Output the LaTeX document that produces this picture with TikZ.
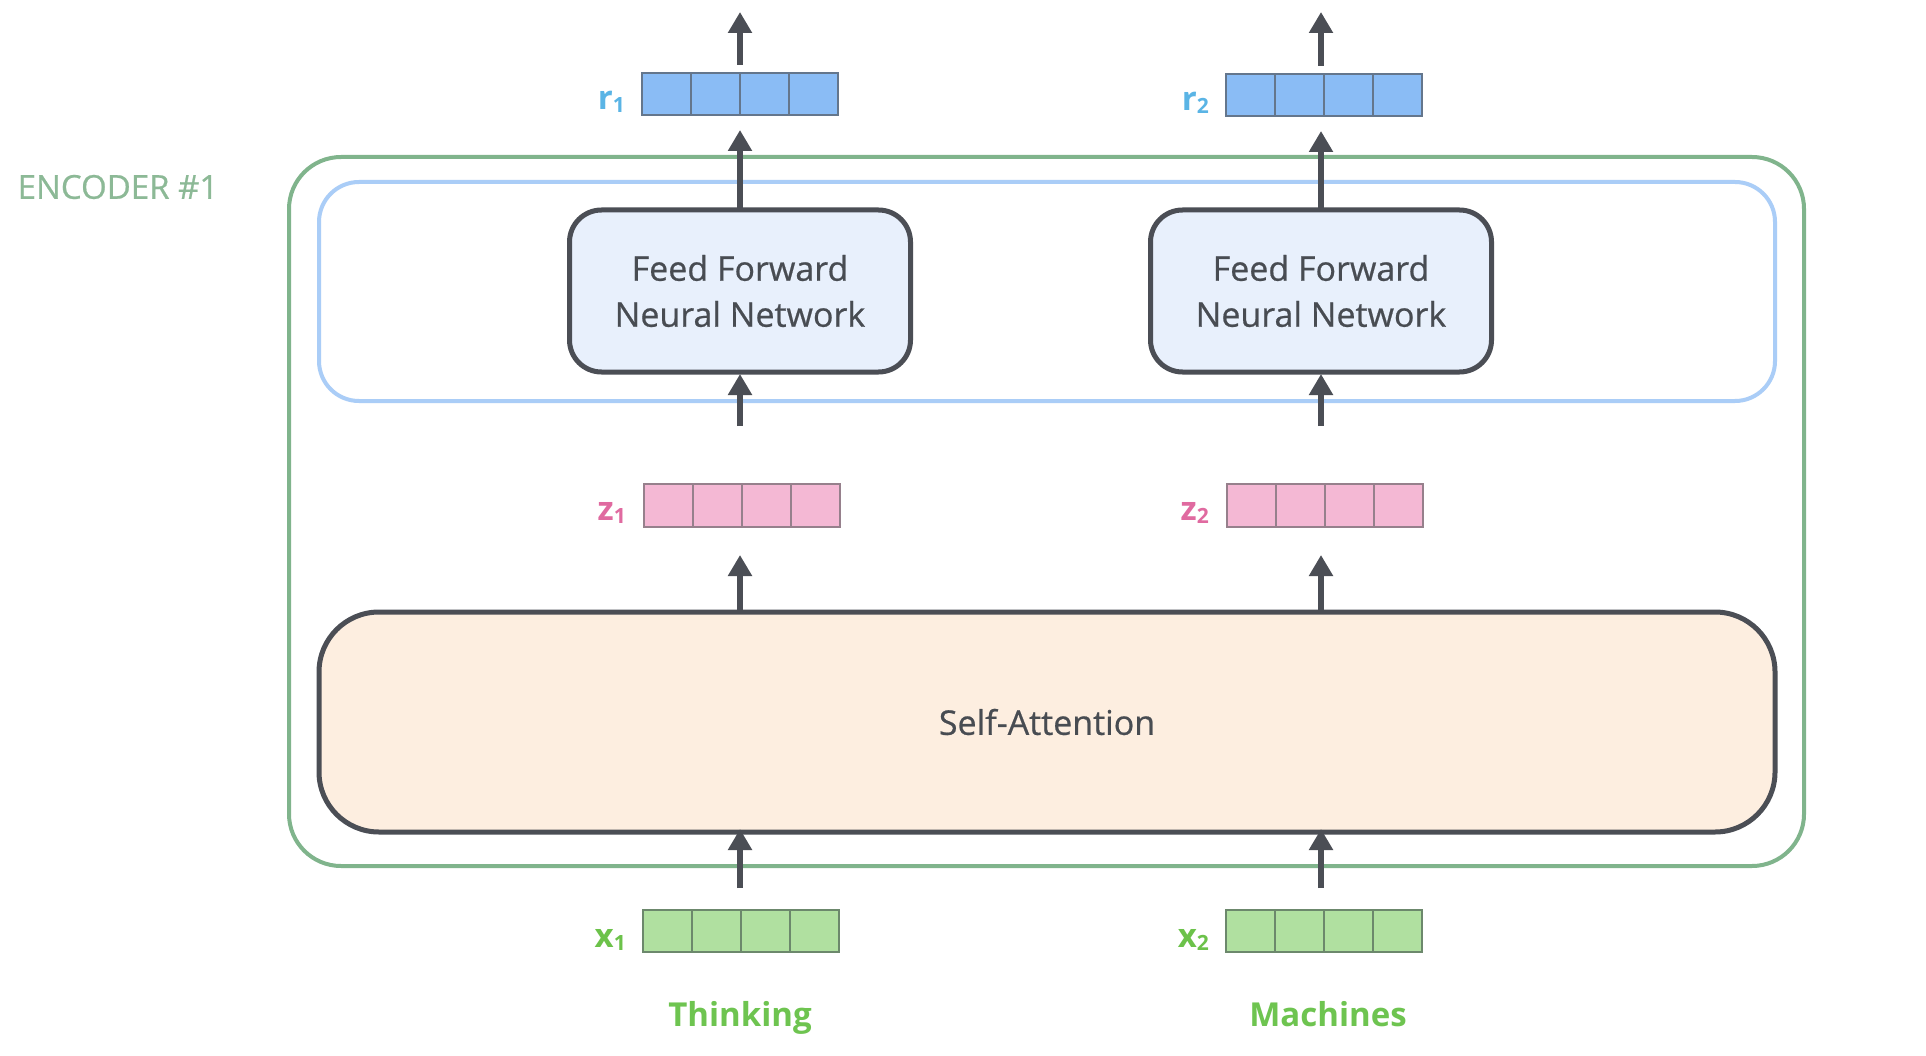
\documentclass[tikz,border=0pt]{standalone}
\usepackage{fontspec}
\setmainfont{Open Sans}
\usetikzlibrary{arrows.meta,calc}
\definecolor{encgreen}{RGB}{128,180,140}
\definecolor{enctext}{RGB}{140,185,150}
\definecolor{ffblue}{RGB}{170,205,247}
\definecolor{darkline}{RGB}{75,78,85}
\definecolor{txtgray}{RGB}{72,76,82}
\definecolor{fffill}{RGB}{232,240,252}
\definecolor{safill}{RGB}{253,238,224}
\definecolor{rfill}{RGB}{138,188,245}
\definecolor{rbord}{RGB}{100,118,140}
\definecolor{zfill}{RGB}{244,184,212}
\definecolor{zbord}{RGB}{150,128,140}
\definecolor{xfill}{RGB}{176,224,160}
\definecolor{xbord}{RGB}{108,136,108}
\definecolor{rlab}{RGB}{90,180,229}
\definecolor{zlab}{RGB}{224,106,160}
\definecolor{xlab}{RGB}{108,194,74}
\definecolor{wordgreen}{RGB}{110,196,80}
\newfontfamily\medfont[FakeBold=0.6]{Open Sans}
\begin{document}
\begin{tikzpicture}[x=1pt,y=-1pt,
  encbox/.style={draw=encgreen,line width=4pt,rounded corners=52pt,inner sep=0pt,outer sep=0pt,minimum width=1515pt,minimum height=709pt},
  ffgroup/.style={draw=ffblue,line width=4pt,rounded corners=40pt,inner sep=0pt,outer sep=0pt,minimum width=1456pt,minimum height=219pt},
  ffbox/.style={draw=darkline,fill=fffill,line width=5pt,rounded corners=32pt,inner sep=0pt,outer sep=0pt,minimum width=341pt,minimum height=162pt,align=center,text=txtgray,font=\medfont\fontsize{34}{46}\selectfont},
  sabox/.style={draw=darkline,fill=safill,line width=5pt,rounded corners=60pt,inner sep=0pt,outer sep=0pt,minimum width=1456pt,minimum height=220pt,text=txtgray,font=\medfont\fontsize{34}{40}\selectfont},
  vecbox/.style={line width=2pt,inner sep=0pt,outer sep=0pt,minimum width=196pt,minimum height=42pt},
  veclab/.style={inner sep=0pt,anchor=base east,font=\fontsize{33}{33}\selectfont\bfseries},
  word/.style={inner sep=0pt,anchor=base,text=wordgreen,font=\fontsize{33}{38}\selectfont\bfseries},
  arr/.style={draw=darkline,line width=6pt,-{Triangle[length=21pt,width=23pt]}}
]
\useasboundingbox[fill=white] (0,0) rectangle (1926,1056);

% containers
\node[encbox] (enc) at (1046.5,511.5) {};
\node[ffgroup] (ffg) at (1047,291.5) {};
\node[inner sep=0pt,text=enctext,font=\medfont\fontsize{33}{38}\selectfont] (enclab) at (118,187) {ENCODER \#1};

% boxes
\node[sabox] (sa) at (1047,722) {Self-Attention};
\node[ffbox] (ff1) at (740,291) {Feed Forward\\Neural Network};
\node[ffbox] (ff2) at (1321,291) {Feed Forward\\Neural Network};

% vectors
\node[vecbox,draw=rbord,fill=rfill] (r1) at (740,94) {};
\node[vecbox,draw=rbord,fill=rfill] (r2) at (1324,95) {};
\node[vecbox,draw=zbord,fill=zfill,minimum height=43pt] (z1) at (742,505.5) {};
\node[vecbox,draw=zbord,fill=zfill,minimum height=43pt] (z2) at (1325,505.5) {};
\node[vecbox,draw=xbord,fill=xfill] (x1) at (741,931) {};
\node[vecbox,draw=xbord,fill=xfill] (x2) at (1324,931) {};
\foreach \v/\col in {r1/rbord,r2/rbord,z1/zbord,z2/zbord,x1/xbord,x2/xbord}{
  \foreach \f in {0.25,0.5,0.75}{
    \draw[draw=\col,line width=2pt] ($(\v.north west)!\f!(\v.north east)$) -- ($(\v.south west)!\f!(\v.south east)$);
  }
}

% vector labels
\node[veclab,text=rlab] (r1l) at ([xshift=-17pt,yshift=5pt]r1.south west) {r\raisebox{-3pt}{\fontsize{21}{21}\selectfont 1}};
\node[veclab,text=rlab] (r2l) at ([xshift=-17pt,yshift=5pt]r2.south west) {r\raisebox{-3pt}{\fontsize{21}{21}\selectfont 2}};
\node[veclab,text=zlab] (z1l) at ([xshift=-18pt,yshift=7pt]z1.south west) {z\raisebox{-3pt}{\fontsize{21}{21}\selectfont 1}};
\node[veclab,text=zlab] (z2l) at ([xshift=-18pt,yshift=7pt]z2.south west) {z\raisebox{-3pt}{\fontsize{21}{21}\selectfont 2}};
\node[veclab,text=xlab] (x1l) at ([xshift=-17pt,yshift=5pt]x1.south west) {x\raisebox{-3pt}{\fontsize{21}{21}\selectfont 1}};
\node[veclab,text=xlab] (x2l) at ([xshift=-17pt,yshift=5pt]x2.south west) {x\raisebox{-3pt}{\fontsize{21}{21}\selectfont 2}};

% words
\node[word] (w1) at (740,1026) {Thinking};
\node[word] (w2) at (1328,1026) {Machines};

% output end points
\coordinate (o1) at (740,12);
\coordinate (o2) at (1321,12);

% arrows
\foreach \i in {1,2}{
  \draw[arr,shorten <=22pt,shorten >=-3pt] (x\i.north -| ff\i.center) -- (sa.south -| ff\i.center);
  \draw[arr,shorten >=28pt] (sa.north -| ff\i.center) -- (z\i.south -| ff\i.center);
  \draw[arr,shorten <=58pt,shorten >=2pt] (z\i.north -| ff\i.center) -- (ff\i.south);
  \draw[arr,shorten >=15pt] (ff\i.north) -- (r\i.south -| ff\i.center);
  \draw[arr,shorten <=8pt] (r\i.north -| ff\i.center) -- (o\i);
}
\end{tikzpicture}
\end{document}
